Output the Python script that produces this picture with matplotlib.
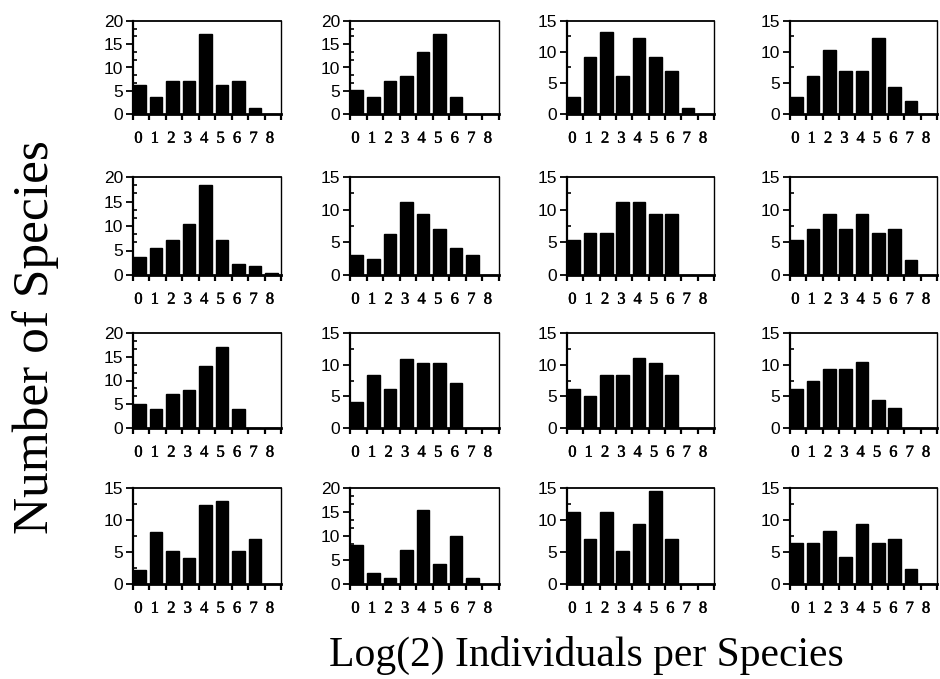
import numpy as np
import matplotlib
matplotlib.use("Agg")
import matplotlib.pyplot as plt
import matplotlib.patheffects as pe
from matplotlib.ticker import MultipleLocator


# octave classes (log2 individuals per species)
octaves = [0, 1, 2, 3, 4, 5, 6, 7, 8]

# number of species per octave, one list per panel (row by row)
p01 = [6.2, 3.6, 7.2, 7.2, 17.3, 6.2, 7.2, 1.2, 0]
p02 = [5.2, 3.6, 7.2, 8.2, 13.3, 17.3, 3.6, 0, 0]
p03 = [2.8, 9.2, 13.3, 6.1, 12.2, 9.2, 6.9, 0.95, 0]
p04 = [2.8, 6.2, 10.4, 7.0, 7.0, 12.2, 4.3, 2.1, 0]

p05 = [3.7, 5.6, 7.1, 10.5, 18.3, 7.1, 2.2, 1.8, 0.5]
p06 = [3.1, 2.4, 6.3, 11.2, 9.3, 7.1, 4.2, 3.1, 0]
p07 = [5.3, 6.4, 6.4, 11.1, 11.1, 9.3, 9.3, 0, 0]
p08 = [5.3, 7.1, 9.3, 7.1, 9.3, 6.4, 7.1, 2.3, 0]

p09 = [5.1, 4.1, 7.2, 8.1, 13.1, 17.1, 4.1, 0, 0]
p10 = [4.1, 8.3, 6.1, 10.9, 10.2, 10.2, 7.1, 0, 0]
p11 = [6.1, 5.0, 8.4, 8.4, 11.0, 10.3, 8.4, 0, 0]
p12 = [6.2, 7.4, 9.3, 9.3, 10.4, 4.4, 3.2, 0, 0]

p13 = [2.2, 8.1, 5.1, 4.0, 12.3, 12.9, 5.1, 7.0, 0]
p14 = [8.1, 2.2, 1.2, 7.1, 15.5, 4.1, 10.0, 1.2, 0]
p15 = [11.2, 7.1, 11.2, 5.2, 9.4, 14.6, 7.1, 0, 0]
p16 = [6.4, 6.4, 8.3, 4.2, 9.4, 6.4, 7.1, 2.3, 0]

panels = [p01, p02, p03, p04, p05, p06, p07, p08,
          p09, p10, p11, p12, p13, p14, p15, p16]
ymax = [20, 20, 15, 15, 20, 15, 15, 15,
        20, 15, 15, 15, 15, 20, 15, 15]

# panel boxes in pixels (left, right) and (top, bottom)
W, H = 940, 679
cols = [(133, 281), (350, 499), (567, 714), (790, 937)]
rows = [(21, 114), (177, 275), (333, 428), (488, 584)]

serif = ['Liberation Serif', 'DejaVu Serif']
sans = ['Liberation Sans', 'DejaVu Sans']
# thicken the small digits a touch, like the scanned original
heavy = [pe.withStroke(linewidth=0.3, foreground='black')]

fig = plt.figure(figsize=(W / 100, H / 100), dpi=100)

for k, vals in enumerate(panels):
    r, c = divmod(k, 4)
    x0, x1 = cols[c]
    y0, y1 = rows[r]
    ax = fig.add_axes([x0 / W, 1 - y1 / H, (x1 - x0) / W, (y1 - y0) / H])
    x = np.array(octaves)
    ax.bar(x + 0.03, vals, width=0.76, align='edge', color='black', edgecolor='black')
    ax.set_xlim(0, 9)
    ax.set_ylim(0, ymax[k])

    # x ticks: small marks at bin edges, labels in between
    ax.set_xticks(x + 0.33)
    ax.set_xticklabels([str(o) for o in octaves], family=serif, fontsize=12)
    for lab in ax.get_xticklabels():
        lab.set_path_effects(heavy)
    ax.xaxis.set_minor_locator(MultipleLocator(1))
    ax.tick_params(axis='x', which='major', length=0, pad=12)
    ax.tick_params(axis='x', which='minor', length=4, width=1.6, direction='out')

    # y ticks
    ax.yaxis.set_major_locator(MultipleLocator(5))
    if ymax[k] == 20:
        ax.yaxis.set_minor_locator(MultipleLocator(5 / 3))
    else:
        ax.yaxis.set_minor_locator(MultipleLocator(2.5))
    ax.tick_params(axis='y', which='major', length=5, width=1.3, direction='out',
                   pad=2, labelsize=12.5)
    ax.tick_params(axis='y', which='minor', length=3, width=1.2, direction='in')
    for lab in ax.get_yticklabels():
        lab.set_family(sans)

    ax.spines['left'].set_linewidth(1.6)
    ax.spines['bottom'].set_linewidth(2.0)
    ax.spines['top'].set_linewidth(1.3)
    ax.spines['right'].set_linewidth(1.0)

fig.text(0.038, 0.503, 'Number of Species', rotation=90, ha='center', va='center',
         family=serif, fontsize=37)
fig.text(0.624, 0.035, 'Log(2) Individuals per Species', ha='center', va='center',
         family=serif, fontsize=30)

fig.savefig('out.png', dpi=100)
